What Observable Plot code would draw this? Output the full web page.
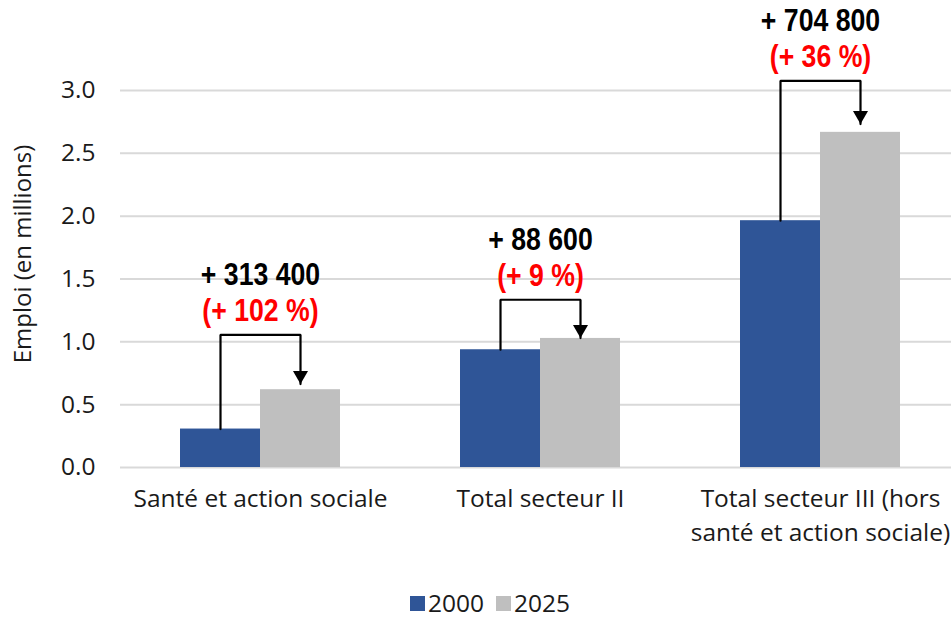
<!DOCTYPE html>
<html><head><meta charset="utf-8">
<script src="https://cdn.jsdelivr.net/npm/d3@7"></script>
<script src="https://cdn.jsdelivr.net/npm/@observablehq/plot@0.6"></script>
<style>
body{margin:0;background:#fff;font-family:"Open Sans",sans-serif;overflow:hidden;position:relative;width:951px;height:620px}
#legend{position:absolute;left:410px;top:588px;display:flex;gap:12px;font-size:24.5px;line-height:30px;color:#1a1a1a}
.sw{display:inline-flex;align-items:center;gap:3px}
.sw i{display:inline-block;width:15px;height:15px}
</style></head><body>
<div id="chart"></div>
<div id="legend"></div>
<script>
const categories = ["Santé et action sociale", "Total secteur II", "Total secteur III (hors santé et action sociale)"];
const categoryLabels = ["Santé et action sociale", "Total secteur II", "Total secteur III (hors\nsanté et action sociale)"];
const years = ["2000", "2025"];
const colors = ["#2f5597", "#bfbfbf"];
const values2000 = [0.306, 0.937, 1.964];
const values2025 = [0.619, 1.027, 2.667];
const changeLabels = ["+ 313 400", "+ 88 600", "+ 704 800"];
const pctLabels = ["(+ 102 %)", "(+ 9 %)", "(+ 36 %)"];
const bracketLevel = [1.056, 1.335, 3.077];
const arrowTip = [0.664, 1.03, 2.733];
const yTicks = [0, 0.5, 1, 1.5, 2, 2.5, 3];
const yTitle = "Emploi (en millions)";

const data = categories.flatMap((c, i) => [
  {cat: c, year: years[0], value: values2000[i]},
  {cat: c, year: years[1], value: values2025[i]}
]);
const connectors = categories.flatMap((c, i) => [
  {cat: c, x: years[0], y: values2000[i]},
  {cat: c, x: years[0], y: bracketLevel[i]},
  {cat: c, x: years[1], y: bracketLevel[i]},
  {cat: c, x: years[1], y: arrowTip[i]}
]);
const annot = categories.map((c, i) => ({cat: c, year: years[1], level: bracketLevel[i], tip: arrowTip[i], change: changeLabels[i], pct: pctLabels[i]}));
const boldFont = '"Liberation Sans", Arial, sans-serif';

const chart = Plot.plot({
  width: 951, height: 560,
  marginTop: 90, marginBottom: 93, marginLeft: 120, marginRight: 0,
  style: {fontFamily: '"Open Sans", sans-serif', fontSize: "24px", color: "#1a1a1a", background: "#fff", overflow: "visible"},
  fx: {domain: categories, range: [120, 960], paddingInner: 120/280, paddingOuter: 60/280, label: null, axis: null},
  x: {domain: years, padding: 0, axis: null},
  y: {domain: [0, 3], axis: null},
  color: {domain: years, range: colors},
  marks: [
    Plot.ruleY(yTicks, {stroke: "#d9d9d9", strokeWidth: 2, insetLeft: -60, insetRight: -60}),
    Plot.barY(data, {fx: "cat", x: "year", y: "value", fill: "year"}),
    Plot.line(connectors, {fx: "cat", x: "x", y: "y", z: "cat", stroke: "#000", strokeWidth: 2.2, strokeLinejoin: "miter"}),
    Plot.dot(annot, {fx: "cat", x: "year", y: "tip", symbol: "triangle", rotate: 180, r: 5.6, fill: "#000", stroke: null, dy: -8.7}),
    Plot.text(annot, {fx: "cat", y: "level", text: "pct", dy: -24, fill: "#ff0000", fontWeight: "bold", fontSize: 31, fontFamily: boldFont, className: "narrow"}),
    Plot.text(annot, {fx: "cat", y: "level", text: "change", dy: -60, fill: "#000", fontWeight: "bold", fontSize: 31, fontFamily: boldFont, className: "narrow"}),
    Plot.axisY({ticks: yTicks, tickFormat: d3.format(".1f"), tickSize: 0, tickPadding: 85, fontSize: 24.5, label: null}),
    Plot.text([yTitle], {fx: () => categories[0], frameAnchor: "left", text: d => d, rotate: -90, dx: -157, dy: -25, fontSize: 24, textAnchor: "middle"}),
    Plot.axisFx({anchor: "bottom", tickSize: 0, tickPadding: 15, fontSize: 24.5, lineHeight: 1.4, label: null,
      tickFormat: d => categoryLabels[categories.indexOf(d)]})
  ]
});
// condense the bold annotation labels horizontally (narrow bold look)
chart.querySelectorAll("g.narrow text").forEach(el => {
  const t = el.getAttribute("transform");
  if (t) el.setAttribute("transform", t + " scale(0.86,1)");
  else {
    const x = el.getAttribute("x") || 0, y = el.getAttribute("y") || 0;
    el.removeAttribute("x"); el.removeAttribute("y");
    el.setAttribute("transform", `translate(${x},${y}) scale(0.86,1)`);
  }
});
document.getElementById("chart").append(chart);

const legend = document.getElementById("legend");
years.forEach((y, i) => {
  const s = document.createElement("span");
  s.className = "sw";
  const sq = document.createElement("i");
  sq.style.background = colors[i];
  s.append(sq, document.createTextNode(y));
  legend.append(s);
});
</script>
</body></html>
